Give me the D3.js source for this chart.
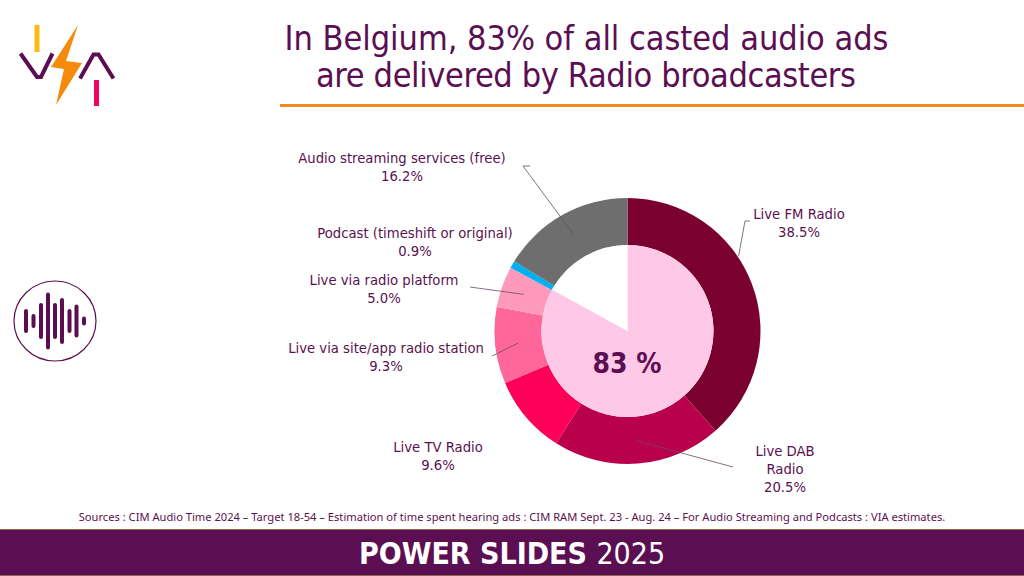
<!DOCTYPE html>
<html><head><meta charset="utf-8">
<script src="https://cdnjs.cloudflare.com/ajax/libs/d3/7.8.5/d3.min.js"></script>
<style>html,body{margin:0;padding:0;background:#fff;overflow:hidden}svg{display:block}
.t{font-family:"DejaVu Sans Condensed","DejaVu Sans",sans-serif;font-stretch:condensed}</style>
</head><body><svg id="c" width="1024" height="576"></svg>
<script>
const categories=["Live FM Radio","Live DAB Radio","Live TV Radio","Live via site/app radio station","Live via radio platform","Podcast (timeshift or original)","Audio streaming services (free)"];
const values=[38.5,20.5,9.6,9.3,5.0,0.9,16.2];
const colors=["#7a0030","#b9004a","#ff0059","#ff6699","#ff99bb","#00b0f0","#6e6e6e"];
const labelLines=[["Live FM Radio","38.5%"],["Live DAB","Radio","20.5%"],["Live TV Radio","9.6%"],["Live via site/app radio station","9.3%"],["Live via radio platform","5.0%"],["Podcast (timeshift or original)","0.9%"],["Audio streaming services (free)","16.2%"]];
const labelPos=[[799,219],[785,456],[438,452],[386,353],[384,285],[415,238],[402,163]];
const leaderElbow=[[745,221],[733,467],null,[492,356],[470,287],null,[523,166]];
const leaderTurn=[[750,221],null,null,null,null,null,[530,166]];
const leaderAttach=[[0.404,134],[0.5,110],null,[0.5,110],[0.5,110],null,[0.5,110]];
const innerShare=[83,17];
const purple="#5b0f52", ink="#5a1150";
const svg=d3.select("#c");
const cx=627.5,cy=331,rO=133,rI=86;

// header
svg.append("text").attr("class","t").attr("x",586.5).attr("y",50).attr("text-anchor","middle").attr("font-size",34).attr("textLength",604).attr("fill",purple).text("In Belgium, 83% of all casted audio ads");
svg.append("text").attr("class","t").attr("x",586).attr("y",87).attr("text-anchor","middle").attr("font-size",34).attr("textLength",540).attr("fill",purple).text("are delivered by Radio broadcasters");
svg.append("rect").attr("x",280).attr("y",104).attr("width",744).attr("height",3).attr("fill","#f28a1c");

// logo
const logo=svg.append("g");
logo.append("rect").attr("x",34.5).attr("y",25).attr("width",5).attr("height",27).attr("fill","#fdb913");
logo.append("rect").attr("x",94).attr("y",80).attr("width",5).attr("height",26).attr("fill","#f0065f");
logo.append("path").attr("d","M20.5,53.5 L37,77 L41,77 L52.5,53.5").attr("fill","none").attr("stroke",purple).attr("stroke-width",4);
logo.append("path").attr("d","M80,78.5 L93.5,54.5 L98.5,54.5 L113.5,78.5").attr("fill","none").attr("stroke",purple).attr("stroke-width",4);
logo.append("path").attr("d","M78,25 L66,61 L82,63 L56,105 L64,69 L51,67 Z").attr("fill","#f58a0b");

// sound icon
const ic=svg.append("g");
ic.append("ellipse").attr("cx",55).attr("cy",321).attr("rx",41).attr("ry",40).attr("fill","#fff").attr("stroke",purple).attr("stroke-width",1.2);
[[26,24],[33.5,14],[41,36],[48,57],[55,36],[62,46],[69.5,24],[76.5,33],[84,9]].forEach(([x,h])=>{
  ic.append("rect").attr("x",x-2).attr("y",321-h/2).attr("width",4).attr("height",h).attr("rx",2).attr("fill",purple);
});

// donut
const g=svg.append("g").attr("transform",`translate(${cx},${cy})`);
const pie=d3.pie().sort(null);
const arcO=d3.arc().innerRadius(rI).outerRadius(rO);
const arcs=pie(values);
g.selectAll("path.o").data(arcs).join("path").attr("class","o").attr("d",arcO).attr("fill",(d,i)=>colors[i]);
const inner=d3.pie().sort(null)(innerShare);
g.append("path").attr("d",d3.arc().innerRadius(0).outerRadius(rI)(inner[0])).attr("fill","#ffc8e6");
g.append("path").attr("d",d3.arc().innerRadius(0).outerRadius(rI)(inner[1])).attr("fill","#fff");

// leaders
arcs.forEach((d,i)=>{
  if(!leaderElbow[i])return;
  const [f,r]=leaderAttach[i];
  const a=d.startAngle+f*(d.endAngle-d.startAngle);
  const p=[cx+r*Math.sin(a),cy-r*Math.cos(a)];
  const pts=leaderTurn[i]?[leaderTurn[i],leaderElbow[i],p]:[leaderElbow[i],p];
  svg.append("path").attr("d",d3.line()(pts)).attr("fill","none").attr("stroke","#6b4a66").attr("stroke-width",0.8);
});

// labels
labelLines.forEach((ls,i)=>{
  const t=svg.append("text").attr("class","t").attr("text-anchor","middle").attr("font-size",14.7).attr("fill",ink);
  ls.forEach((s,j)=>t.append("tspan").attr("x",labelPos[i][0]).attr("y",labelPos[i][1]+j*18).text(s));
});
svg.append("text").attr("class","t").attr("x",627).attr("y",373).attr("text-anchor","middle").attr("font-weight",700).attr("font-size",28).attr("fill",purple).text("83 %");

// footer
svg.append("text").attr("x",512).attr("y",521).attr("text-anchor","middle").attr("font-family","'Noto Sans',sans-serif").attr("font-size",11.15).attr("fill",ink).text("Sources : CIM Audio Time 2024 – Target 18-54 – Estimation of time spent hearing ads : CIM RAM Sept. 23 - Aug. 24 – For Audio Streaming and Podcasts : VIA estimates.");
svg.append("rect").attr("x",0).attr("y",529).attr("width",1024).attr("height",47).attr("fill",purple);
svg.append("rect").attr("x",0).attr("y",529).attr("width",1024).attr("height",1).attr("fill","#8c6a4a");
svg.append("rect").attr("x",0).attr("y",575).attr("width",1024).attr("height",1).attr("fill","#8c6a4a");
const ft=svg.append("text").attr("class","t").attr("x",512).attr("y",564).attr("text-anchor","middle").attr("font-size",30).attr("fill","#fff");
ft.append("tspan").attr("font-weight",700).text("POWER SLIDES ");
ft.append("tspan").text("2025");
</script></body></html>
